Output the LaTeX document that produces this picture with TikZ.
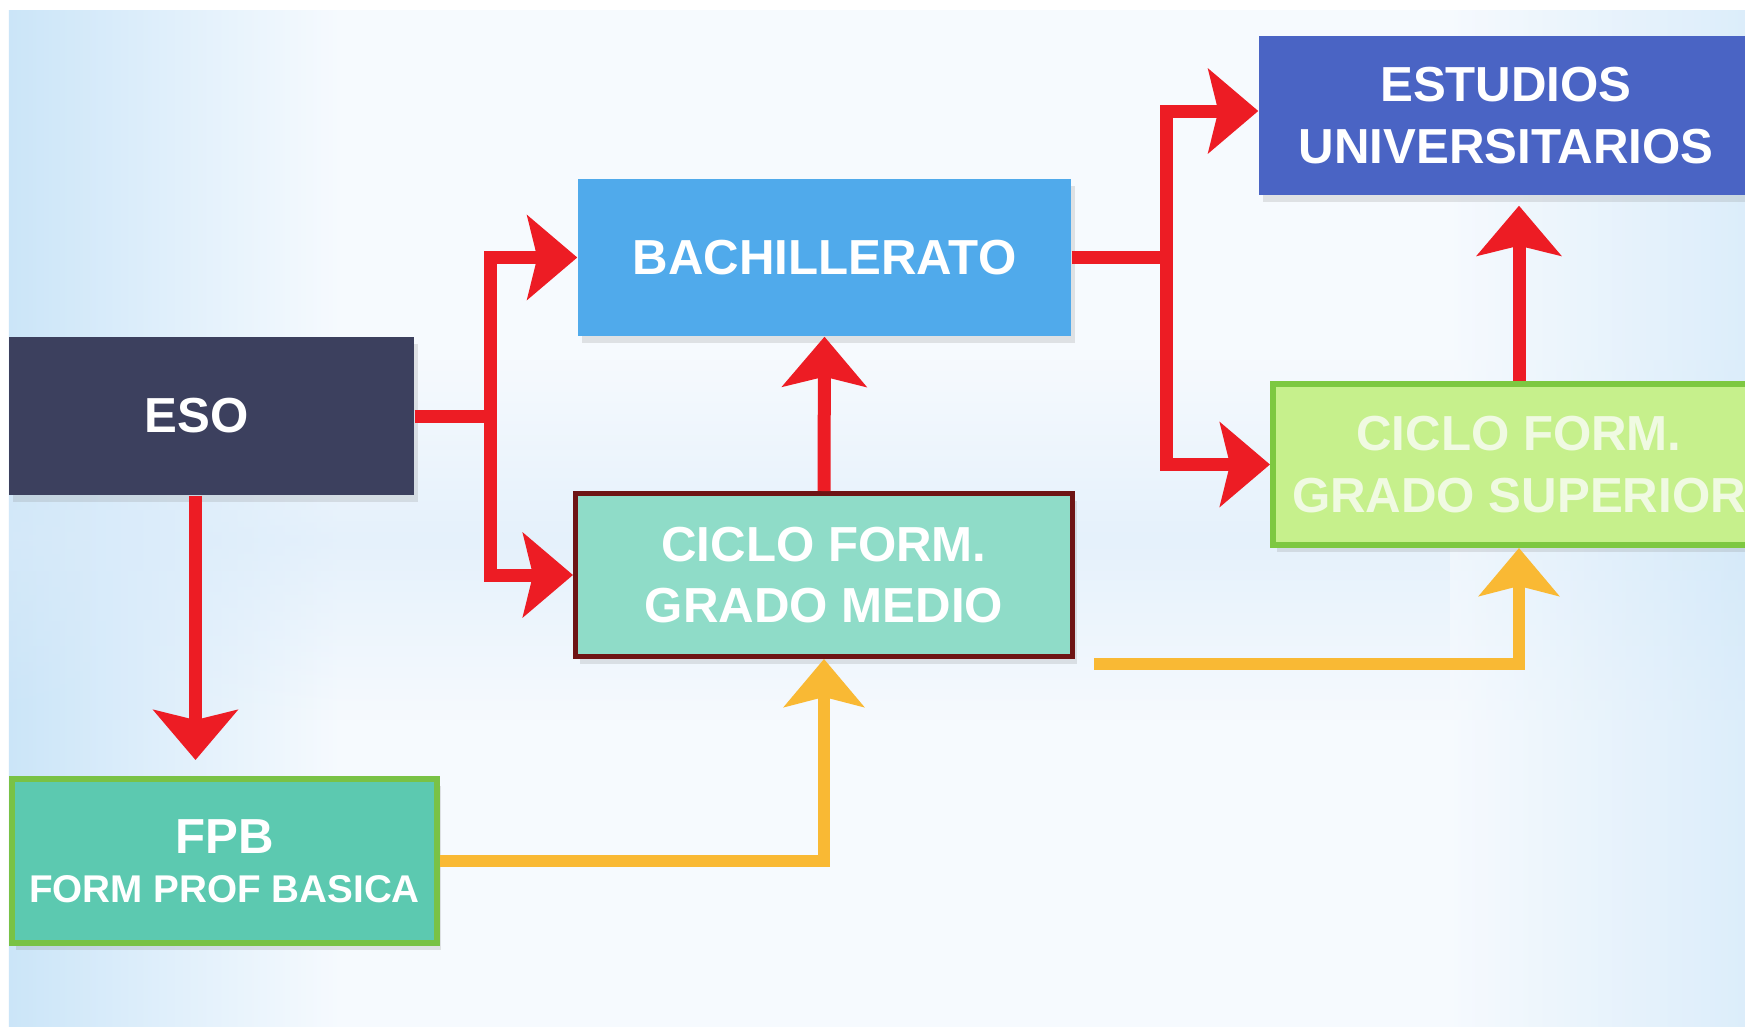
\documentclass[tikz,border=0pt]{standalone}
\usepackage{fontspec}
\setmainfont{Liberation Sans}
\definecolor{bgblue}{RGB}{203, 229, 248}
\definecolor{bgpale}{RGB}{246, 250, 254}
\definecolor{bgband}{RGB}{218, 235, 250}
\definecolor{esonavy}{RGB}{60, 64, 94}
\definecolor{bachblue}{RGB}{80, 170, 235}
\definecolor{univblue}{RGB}{74, 100, 196}
\definecolor{supfill}{RGB}{198, 240, 140}
\definecolor{supline}{RGB}{125, 200, 65}
\definecolor{suptext}{RGB}{240, 250, 226}
\definecolor{mediofill}{RGB}{143, 220, 200}
\definecolor{medioline}{RGB}{110, 20, 20}
\definecolor{fpbfill}{RGB}{92, 201, 176}
\definecolor{fpbline}{RGB}{121, 194, 69}
\definecolor{arrowred}{RGB}{237, 28, 36}
\definecolor{arrowgold}{RGB}{249, 185, 52}
\usetikzlibrary{arrows.meta, positioning, shadows, fadings}
\tikzfading[name=bandfade, top color=transparent!100, bottom color=transparent!100, middle color=transparent!40]

\begin{document}
\begin{tikzpicture}[
  box/.style={fill=#1, text=white, align=center, inner sep=0pt,
    font=\bfseries\fontsize{14}{17.4}\selectfont,
    drop shadow={shadow xshift=0.04cm, shadow yshift=-0.07cm, opacity=0.2}},
  redarrow/.style={draw=arrowred, line width=0.13cm, -{Stealth[length=0.5cm, width=0.84cm, inset=0.1cm]}},
  goldarrow/.style={draw=arrowgold, line width=0.12cm, -{Stealth[length=0.48cm, width=0.8cm, inset=0.1cm]}},
]
  \useasboundingbox (0,0) rectangle (17.45,-10.27);
  % background
  \fill[white] (0,0) rectangle (17.45,-10.27);
  \fill[bgpale] (0.09,-0.10) rectangle (17.45,-10.27);
  \shade[left color=bgblue, right color=bgpale] (0.09,-0.10) rectangle (3.4,-10.27);
  \fill[bgband, path fading=bandfade] (0.09,-3.6) rectangle (17.45,-7.2);
  \shade[left color=bgpale, right color=bgblue, opacity=0.6] (14.5,-0.10) rectangle (17.45,-10.27);

  \node[box=esonavy, minimum width=4.05cm, minimum height=1.58cm] (eso) at (2.115,-4.16) {ESO\hspace{0.3cm}};
  \node[box=bachblue, minimum width=4.93cm, minimum height=1.57cm] (bach) at (8.245,-2.575) {BACHILLERATO};
  \node[box=univblue, minimum width=4.94cm, minimum height=1.59cm] (univ) at (15.06,-1.155) {ESTUDIOS\\UNIVERSITARIOS};
  \node[box=supfill, draw=supline, line width=0.06cm, text=suptext, minimum width=4.92cm, minimum height=1.61cm] (sup) at (15.19,-4.645) {CICLO FORM.\\GRADO SUPERIOR};
  \node[box=mediofill, draw=medioline, line width=0.05cm, minimum width=4.97cm, minimum height=1.63cm] (medio) at (8.24,-5.75) {CICLO FORM.\\GRADO MEDIO};
  \node[box=fpbfill, draw=fpbline, line width=0.06cm, minimum width=4.25cm, minimum height=1.64cm] (fpb) at (2.245,-8.61) {FPB\\[-3.5pt]\fontsize{11}{13}\selectfont FORM PROF BASICA};

  % red connectors
  \coordinate (esosplit) at (4.90,-4.16);
  \draw[redarrow] (eso.east) -- (esosplit) |- (bach.west);
  \draw[redarrow] (esosplit) |- (medio.west);
  \draw[redarrow, shorten >=1.6mm] ([xshift=-1.6mm]eso.south) -- ([xshift=-1.6mm]eso.south |- fpb.north);
  \draw[redarrow] (medio.north) -- (bach.south);
  \coordinate (bachsplit) at (11.66,-2.575);
  \draw[redarrow] (bach.east) -- (bachsplit) |- ([yshift=0.045cm]univ.west);
  \draw[redarrow] (bachsplit) |- (sup.west);
  \draw[redarrow, shorten >=1mm] (sup.north) -- (sup.north |- univ.south);

  % gold connectors
  \draw[goldarrow] (fpb.east) -| (medio.south);
  \coordinate (medioout) at ([xshift=1.9mm, yshift=-0.5mm]medio.south east);
  \draw[goldarrow] (medioout) -| (sup.south);
\end{tikzpicture}
\end{document}
